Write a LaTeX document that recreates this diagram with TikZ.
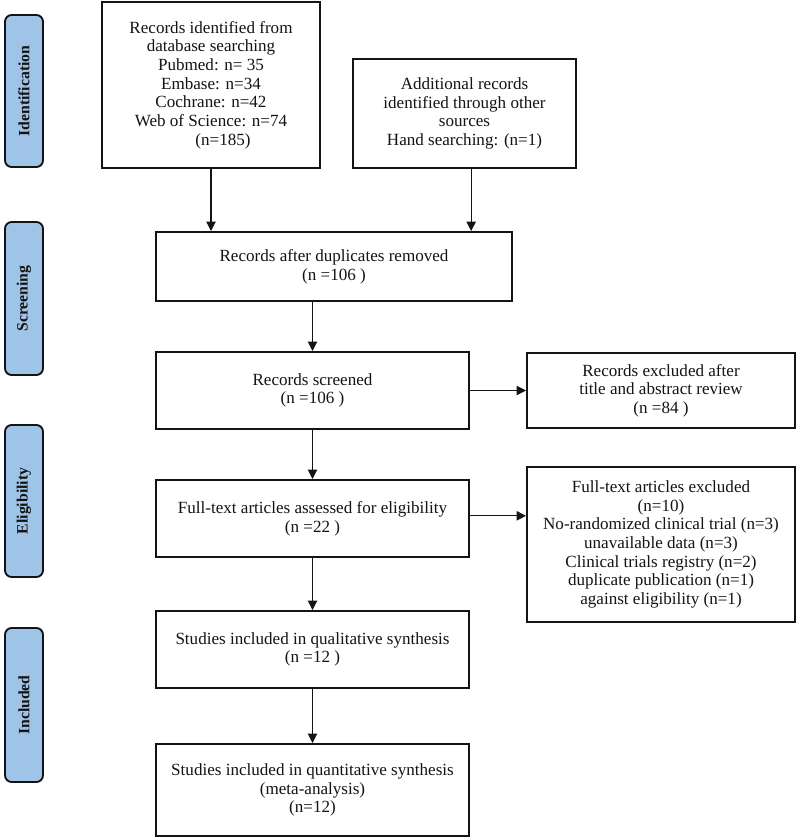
\documentclass[tikz,border=0pt]{standalone}
\usepackage{fontspec}
\setmainfont{Liberation Serif}
\usetikzlibrary{arrows.meta,positioning,calc}
\definecolor{FlowBlue}{RGB}{160,196,232}
\definecolor{FlowInk}{RGB}{20,20,20}
\tikzset{
  flow/box/.style={
    draw=FlowInk,
    line width=1.5pt,
    fill=white,
    align=center,
    text=FlowInk,
    inner sep=2pt,
    font=\fontsize{12.8}{14}\selectfont
  },
  flow/stage/.style={
    draw=FlowInk,
    line width=1.4pt,
    rounded corners=5pt,
    fill=FlowBlue,
    rotate=90,
    align=center,
    text=FlowInk,
    minimum height=28.5pt,
    inner sep=0pt,
    font=\fontsize{11.8}{13}\selectfont\bfseries
  },
  flow/arrow/.style={-{Triangle[length=7pt,width=7pt]}, line width=0.8pt, draw=FlowInk}
}

\begin{document}
\begin{tikzpicture}[x=0.75pt,y=-0.75pt]
  \useasboundingbox (0,0) rectangle (796,839);
  % stage labels on the left
  \node[flow/stage,minimum width=114pt] (ident) at (24,91) {Identification};
  \node[flow/stage,minimum width=114.75pt] (screen) at (24,298.5) {Screening};
  \node[flow/stage,minimum width=114pt] (elig) at (24,501) {Eligibility};
  \node[flow/stage,minimum width=115.5pt] (incl) at (24,705) {Included};

  % main column
  \node[flow/box,minimum width=163.5pt,minimum height=124.5pt] (db) at (211,85)
    {Records identified from\\database searching\\Pubmed: n= 35\\Embase: n=34\\Cochrane: n=42\\Web of Science: n=74\\\hspace*{18pt}(n=185)};
  \node[flow/box,minimum width=167.25pt,minimum height=81.75pt] (other) at (464.5,113.5)
    {Additional records\\identified through other\\sources\\Hand searching: (n=1)};
  \node[flow/box,minimum width=267pt,minimum height=51.75pt] (dup) at (334,266.5)
    {Records after duplicates removed\\(n =106 )};
  \node[flow/box,minimum width=234.75pt,minimum height=57.75pt] (screened) at (312.5,390.5)
    {Records screened\\(n =106 )};
  \node[flow/box,minimum width=234.75pt,minimum height=57.75pt] (full) at (312.5,518.5)
    {Full-text articles assessed for eligibility\\(n =22 )};
  \node[flow/box,minimum width=234.75pt,minimum height=57.75pt] (qual) at (312.5,649.5)
    {Studies included in qualitative synthesis\\(n =12 )};
  \node[flow/box,minimum width=234.75pt,minimum height=69pt] (quant) at (312.5,790)
    {Studies included in quantitative synthesis\\(meta-analysis)\\(n=12)};

  % exclusions on the right
  \node[flow/box,minimum width=201pt,minimum height=56.25pt] (excl) at (661,390.5)
    {Records excluded after\\title and abstract review\\(n =84 )};
  \node[flow/box,minimum width=201pt,minimum height=116.25pt] (fullexcl) at (661,544.5)
    {Full-text articles excluded\\(n=10)\\No-randomized clinical trial (n=3)\\unavailable data (n=3)\\Clinical trials registry (n=2)\\duplicate publication (n=1)\\against eligibility (n=1)};

  \draw[flow/arrow] (db.south) -- (db.south |- dup.north);
  \draw[flow/arrow] ([xshift=5pt]other.south) -- ([xshift=5pt]other.south |- dup.north);
  \draw[flow/arrow] (screened.north |- dup.south) -- (screened.north);
  \draw[flow/arrow] (screened.east) -- (excl.west);
  \draw[flow/arrow] (screened.south) -- (full.north);
  \draw[flow/arrow] ([yshift=2pt]full.east) -- ([yshift=2pt]full.east -| fullexcl.west);
  \draw[flow/arrow] (full.south) -- (qual.north);
  \draw[flow/arrow] (qual.south) -- (quant.north);
\end{tikzpicture}
\end{document}
